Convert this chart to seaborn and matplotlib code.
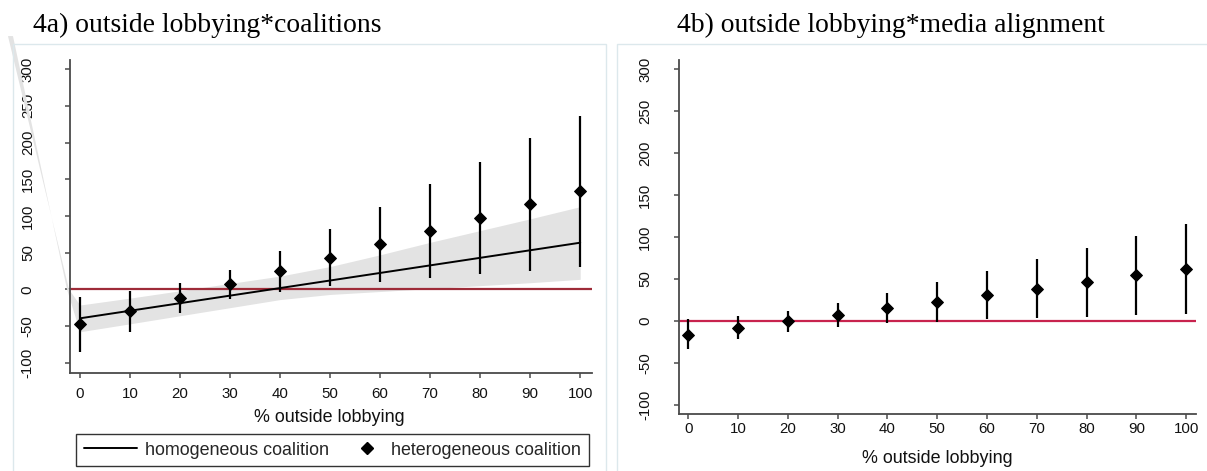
import numpy as np
import pandas as pd
import matplotlib
matplotlib.use("Agg")
import matplotlib.pyplot as plt
from matplotlib.lines import Line2D
from matplotlib.patches import Rectangle, Polygon
from matplotlib.legend_handler import HandlerBase
import seaborn as sns

# ---------------- data ----------------
x_vals = [0, 10, 20, 30, 40, 50, 60, 70, 80, 90, 100]

# panel 4a: heterogeneous coalition (point estimates + 95% CI)
het_est = [-47.7, -29.6, -11.4, 6.8, 24.9, 43.1, 61.3, 79.4, 97.6, 115.8, 134.0]
het_lo = [-86.0, -57.8, -31.9, -13.6, -3.3, 4.5, 9.5, 15.8, 20.9, 25.4, 30.0]
het_hi = [-10.0, -2.3, 8.2, 26.3, 52.2, 81.7, 112.6, 143.1, 173.9, 205.7, 236.6]

# panel 4a: homogeneous coalition (line + CI band)
hom_est = [-39.5, -29.2, -18.9, -8.6, 1.7, 12.0, 22.3, 32.6, 42.9, 53.2, 63.5]
hom_lo = [-57.8, -47.0, -36.0, -25.0, -14.0, -7.0, -3.0, 1.0, 5.0, 9.0, 13.6]
hom_hi = [-21.4, -12.0, -2.0, 8.0, 18.0, 31.0, 47.0, 64.0, 80.0, 96.0, 112.6]

# stray band segment drawn outside the plot region in the original (x, y)
stray_upper_x = [-14.4, -2.2, 0]
stray_upper_y = [345.0, 0.0, -21.4]
stray_lower_x = [0, -2.6, -13.4]
stray_lower_y = [-57.8, 0.0, 345.0]

# panel 4b: outside lobbying * media alignment
med_est = [-16.7, -8.0, 0.0, 7.1, 15.1, 22.6, 30.6, 38.5, 46.4, 54.4, 61.9]
med_lo = [-33.7, -21.8, -12.7, -6.7, -2.8, -0.8, 2.0, 4.0, 5.2, 6.8, 8.0]
med_hi = [2.0, 6.0, 11.9, 21.0, 33.0, 46.0, 59.5, 73.4, 87.3, 101.2, 115.5]

y_ticks = [-100, -50, 0, 50, 100, 150, 200, 250, 300]
x_ticks = x_vals

title_a = "4a) outside lobbying*coalitions"
title_b = "4b) outside lobbying*media alignment"
xlabel = "% outside lobbying"
leg_hom = "homogeneous coalition"
leg_het = "heterogeneous coalition"

# ---------------- style ----------------
sns.set_style("ticks")
plt.rcParams["font.family"] = ["Liberation Sans", "DejaVu Sans"]

W, H = 1207, 471
fig = plt.figure(figsize=(W / 100, H / 100), dpi=100)

def fx(px):
    return px / W

def fy(py):
    return 1 - py / H

# panel frames (light outline boxes)
fig.patches.append(Rectangle((fx(13), fy(480)), fx(606 - 13), fy(44) - fy(480),
                             transform=fig.transFigure, fill=False,
                             edgecolor="#dce8ec", lw=1.0))
fig.patches.append(Rectangle((fx(617), fy(480)), fx(1215 - 617), fy(44) - fy(480),
                             transform=fig.transFigure, fill=False,
                             edgecolor="#dce8ec", lw=1.0))

ax_a = fig.add_axes([fx(70), fy(372.7), fx(591.7 - 70), fy(60) - fy(372.7)])
ax_b = fig.add_axes([fx(679), fy(414.3), fx(1195.7 - 679), fy(60) - fy(414.3)])

spine_col = "#4a4a4a"

def style_axis(ax, ylim, xlim, ypad, xpad):
    ax.set_xlim(*xlim)
    ax.set_ylim(*ylim)
    ax.set_xticks(x_ticks)
    ax.set_yticks(y_ticks)
    ax.set_yticklabels([str(t) for t in y_ticks], rotation=90, va="center")
    for s in ["top", "right"]:
        ax.spines[s].set_visible(False)
    for s in ["left", "bottom"]:
        ax.spines[s].set_color(spine_col)
        ax.spines[s].set_linewidth(1.3)
    ax.tick_params(axis="y", length=3.3, width=1.1, color=spine_col,
                   labelsize=10.8, pad=ypad, labelcolor="#111111")
    ax.tick_params(axis="x", length=3.3, width=1.1, color=spine_col,
                   labelsize=10.8, pad=xpad, labelcolor="#111111")
    ax.set_facecolor("white")
    ax.grid(False)


class RightMarkerHandler(HandlerBase):
    """Draw a legend marker towards the right part of the handle box."""
    def __init__(self, frac=0.7, **kw):
        super().__init__(**kw)
        self.frac = frac

    def create_artists(self, legend, orig_handle, xdescent, ydescent,
                       width, height, fontsize, trans):
        m = Line2D([width * self.frac - xdescent], [height / 2 - ydescent],
                   marker=orig_handle.get_marker(), ls="none",
                   markersize=orig_handle.get_markersize(),
                   color=orig_handle.get_color(), transform=trans)
        return [m]

# ---------------- panel a ----------------
df_hom = pd.DataFrame({"x": x_vals, "y": hom_est, "lo": hom_lo, "hi": hom_hi})
df_het = pd.DataFrame({"x": x_vals, "y": het_est, "lo": het_lo, "hi": het_hi})

ax_a.fill_between(df_hom["x"], df_hom["lo"], df_hom["hi"], color="#e3e3e3",
                  lw=0, zorder=1)
stray = Polygon(list(zip(stray_upper_x + stray_lower_x, stray_upper_y + stray_lower_y)),
                closed=True, facecolor="#e3e3e3", edgecolor="none",
                clip_on=False, zorder=1)
ax_a.add_patch(stray)

ax_a.axhline(0, color="#9e2b38", lw=1.6, zorder=2)
sns.lineplot(data=df_hom, x="x", y="y", ax=ax_a, color="black", lw=1.4,
             zorder=3, legend=False)
ax_a.vlines(df_het["x"], df_het["lo"], df_het["hi"], color="black", lw=1.6, zorder=4)
sns.scatterplot(data=df_het, x="x", y="y", ax=ax_a, marker="D", s=36,
                color="black", edgecolor="black", linewidth=0.8, zorder=5, legend=False)
style_axis(ax_a, (-113.6, 312.4), (-2, 102.3), ypad=22, xpad=7)
ax_a.set_xlabel(xlabel, fontsize=12.9, color="#111111")
ax_a.set_ylabel("")
ax_a.xaxis.set_label_coords(0.498, -0.115)

h_line = Line2D([], [], color="black", lw=1.4)
h_dia = Line2D([], [], color="black", marker="D", ls="none", markersize=6)
leg = fig.legend([h_line, h_dia], [leg_hom, leg_het], ncol=2,
                 loc="upper left", bbox_to_anchor=(fx(76), fy(434)),
                 bbox_transform=fig.transFigure,
                 handler_map={h_dia: RightMarkerHandler(frac=0.7)},
                 fontsize=12.9, frameon=True, fancybox=False,
                 handlelength=3.0, handletextpad=0.45, columnspacing=0.0,
                 borderpad=0.42, borderaxespad=0)
leg.get_frame().set_edgecolor("black")
leg.get_frame().set_linewidth(1.0)

# ---------------- panel b ----------------
df_med = pd.DataFrame({"x": x_vals, "y": med_est, "lo": med_lo, "hi": med_hi})
ax_b.axhline(0, color="#c8234e", lw=1.6, zorder=2)
ax_b.vlines(df_med["x"], df_med["lo"], df_med["hi"], color="black", lw=1.6, zorder=4)
sns.scatterplot(data=df_med, x="x", y="y", ax=ax_b, marker="D", s=36,
                color="black", edgecolor="black", linewidth=0.8, zorder=5, legend=False)
style_axis(ax_b, (-111.0, 310.7), (-1.87, 101.9), ypad=16, xpad=2)
ax_b.set_xlabel(xlabel, fontsize=12.9, color="#111111")
ax_b.set_ylabel("")
ax_b.xaxis.set_label_coords(0.499, -0.1)

# ---------------- titles ----------------
fig.text(fx(33), fy(32), title_a, family=["Liberation Serif", "DejaVu Serif"],
         fontsize=19.9, va="baseline", ha="left", color="black")
fig.text(fx(677), fy(32), title_b, family=["Liberation Serif", "DejaVu Serif"],
         fontsize=19.9, va="baseline", ha="left", color="black")

fig.savefig("out.png", dpi=100, facecolor="white")
